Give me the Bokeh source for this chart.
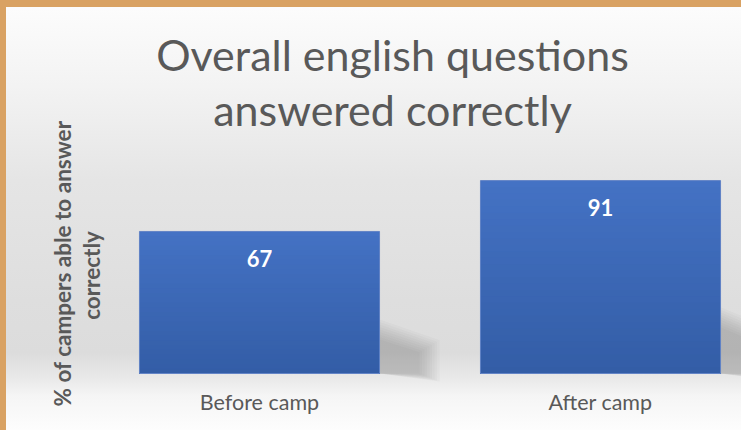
import math
from bokeh.plotting import figure
from bokeh.models import (ColumnDataSource, Range1d, LabelSet, Label, InlineStyleSheet)
from bokeh.embed import file_html
from bokeh.resources import INLINE
from bokeh.core.properties import value

# ---------------- data ----------------
categories = ["Before camp", "After camp"]
values = [67, 91]
title_lines = ["Overall english questions", "answered correctly"]
y_title_lines = ["% of campers able to answer", "correctly"]

FONT = "Lato"
GREY = "#595959"
BAR_TOP = (68, 114, 196)
BAR_BOTTOM = (51, 93, 166)
BAR_WIDTH = 0.704

W, H = 741, 430
BASE = 373                   # page y of the bar baseline
PX_X = 341.0                 # pixels per category
PX_Y = 2.12                  # pixels per percent
X0 = -259.0 / PX_X
X1 = X0 + W / PX_X
Y0 = -(H - BASE) / PX_Y
Y1 = BASE / PX_Y

def sx(px):   # page pixel -> x data
    return X0 + px / PX_X

def sy(py):   # page pixel -> y data
    return (BASE - py) / PX_Y

xs = list(range(len(categories)))

p = figure(width=W, height=H, output_backend="svg", toolbar_location=None,
           x_range=Range1d(X0, X1), y_range=Range1d(Y0, Y1),
           min_border=0)
p.title.visible = False
p.xaxis.visible = False
p.yaxis.visible = False
p.border_fill_color = None
p.background_fill_color = None
p.outline_line_color = None
p.grid.visible = False
p.stylesheets = [InlineStyleSheet(css=""":host{
 background:linear-gradient(180deg,
 #fdfdfd 0%, #f3f3f3 20%, #e5e5e5 42%, #dedede 70%, #dcdcdc 82%, #e9e9e9 88%,
 #f5f5f5 92%, #fdfdfd 100%);
 box-shadow: inset 6px 7px 0 0 #d9a263;}""")]

# ---------------- soft shadows to the right of the bars ----------------
px_x = 1.0 / PX_X
px_y = 1.0 / PX_Y
layers = 9
for k in range(layers):
    grow = (layers - 1 - k) * 2.5
    shx, shy = [], []
    for i, v in enumerate(values):
        xr = xs[i] + BAR_WIDTH / 2
        h = v * 0.24
        h2 = v * 0.15
        shx.append([xr, xr, xr + (40 + grow) * px_x, xr + (40 + grow) * px_x])
        shy.append([0, h + grow * px_y, h2 + grow * px_y * 0.6, 0 - grow * px_y * 0.4])
    p.patches(shx, shy, fill_color="#4a4a4a", fill_alpha=0.035, line_color=None)

# ---------------- bars with vertical gradient (overlapping, no seams) ----------------
N = 30
gx, gt, gc = [], [], []
for i, v in enumerate(values):
    for k in reversed(range(N)):
        f = (k + 0.5) / N
        c = tuple(int(round(BAR_BOTTOM[j] + (BAR_TOP[j] - BAR_BOTTOM[j]) * f)) for j in range(3))
        gx.append(xs[i])
        gt.append(v * (k + 1) / N)
        gc.append("#%02x%02x%02x" % c)
p.vbar(x=gx, bottom=0, top=gt, width=BAR_WIDTH, fill_color=gc, line_color=None)

src = ColumnDataSource(dict(x=xs, top=values, zero=[0] * len(xs),
                            label=[str(v) for v in values], cat=categories))
p.vbar(x="x", top="top", width=BAR_WIDTH, source=src, fill_color=None,
       line_color="#6384c6", line_width=1)

p.add_layout(LabelSet(x="x", y="top", text="label", source=src, y_offset=-27,
                      text_align="center", text_baseline="middle",
                      text_font=value(FONT), text_font_style="bold",
                      text_font_size="22px", text_color="white"))

# ---------------- category labels ----------------
p.add_layout(LabelSet(x="x", y="zero", text="cat", source=src, y_offset=-28,
                      text_align="center", text_baseline="middle",
                      text_font=value(FONT), text_font_size="21.5px",
                      text_color=GREY))

# ---------------- title ----------------
for line, base in zip(title_lines, [54, 109]):
    p.add_layout(Label(x=sx(392), y=sy(base), text=line, text_align="center",
                       text_baseline="alphabetic", text_font=FONT,
                       text_font_size="43px", text_color=GREY))

# ---------------- y axis title (two rotated lines) ----------------
for line, cx, cy in zip(y_title_lines, [62, 91], [263, 275]):
    p.add_layout(Label(x=sx(cx), y=sy(cy), text=line, angle=math.pi / 2,
                       text_align="center", text_baseline="middle",
                       text_font=FONT, text_font_style="bold",
                       text_font_size="22.5px", text_color=GREY))

open("out.html", "w").write(file_html(p, INLINE))
